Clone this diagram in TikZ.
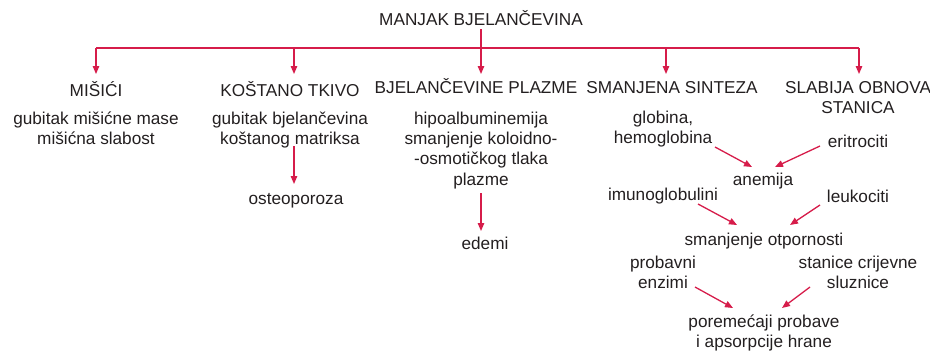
\documentclass[tikz,border=0pt]{standalone}
\usepackage{fontspec}
\setmainfont{Liberation Sans}
\usetikzlibrary{arrows.meta}
\definecolor{redc}{RGB}{214,28,74}
\definecolor{textc}{RGB}{35,31,32}
\tikzset{
  txt/.style={inner sep=0pt, align=center, anchor=base, text=textc,
    font=\fontsize{17.2}{20.4}\selectfont},
  conn/.style={draw=redc, line width=1.3pt, -{Triangle[length=8pt,width=6.5pt]}},
  bar/.style={draw=redc, line width=1.3pt}
}
\begin{document}
\begin{tikzpicture}[x=1pt,y=-1pt]
\useasboundingbox (0,0) rectangle (930,351);
% title and headings (y = baseline of the last line)
\node[txt] (title) at (481,25) {MANJAK BJELANČEVINA};
\node[txt] (h1) at (96,96) {MIŠIĆI};
\node[txt] (h2) at (290,96) {KOŠTANO TKIVO};
\node[txt] (h3) at (476,93) {BJELANČEVINE PLAZME};
\node[txt] (h4) at (672,93) {SMANJENA SINTEZA};
\node[txt] (h5) at (858,113.4) {SLABIJA OBNOVA\\STANICA};
% descriptions
\node[txt] (d1) at (96,144.4) {gubitak mišićne mase\\mišićna slabost};
\node[txt] (d2) at (290,144.4) {gubitak bjelančevina\\koštanog matriksa};
\node[txt] (d3) at (481,185.2) {hipoalbuminemija\\smanjenje koloidno-\\-osmotičkog tlaka\\plazme};
\node[txt] (osteo) at (296,204) {osteoporoza};
\node[txt] (edemi) at (485,249) {edemi};
\node[txt] (glob) at (663,143.4) {globina,\\hemoglobina};
\node[txt] (erit) at (858,147) {eritrociti};
\node[txt] (anem) at (763,185) {anemija};
\node[txt] (imuno) at (663,200) {imunoglobulini};
\node[txt] (leuko) at (858,202) {leukociti};
\node[txt] (otp) at (764,245) {smanjenje otpornosti};
\node[txt] (prob) at (663,288.4) {probavni\\enzimi};
\node[txt] (stan) at (858,288.4) {stanice crijevne\\sluznice};
\node[txt] (por) at (764,347.4) {poremećaji probave\\i apsorpcije hrane};
% coordinates for the tree
\coordinate (ts) at (481,29);
\coordinate (b1) at (96,48);
\coordinate (b2) at (294,48);
\coordinate (b4) at (666,48);
\coordinate (b5) at (859,48);
\coordinate (t1) at (96,74);
\coordinate (t2) at (294,74);
\coordinate (t3) at (481,74);
\coordinate (t4) at (666,74);
\coordinate (t5) at (859,74);
\draw[bar] (b1) -- (b5);
\draw[conn] (ts) -- (t3);
\draw[conn] (b1) -- (t1);
\draw[conn] (b2) -- (t2);
\draw[conn] (b4) -- (t4);
\draw[conn] (b5) -- (t5);
% vertical arrows
\coordinate (o1) at (294,146);
\coordinate (o2) at (294,184);
\draw[conn] (o1) -- (o2);
\coordinate (e1) at (481,193);
\coordinate (e2) at (481,231);
\draw[conn] (e1) -- (e2);
% converging arrows
\coordinate (a1) at (715,147);
\coordinate (a2) at (752,167);
\coordinate (a3) at (820,146);
\coordinate (a4) at (775,167);
\draw[conn] (a1) -- (a2);
\draw[conn] (a3) -- (a4);
\coordinate (c1) at (698,204);
\coordinate (c2) at (737,225);
\coordinate (c3) at (820,205);
\coordinate (c4) at (790,225);
\draw[conn] (c1) -- (c2);
\draw[conn] (c3) -- (c4);
\coordinate (p1) at (695,287);
\coordinate (p2) at (733,308);
\coordinate (p3) at (810,287);
\coordinate (p4) at (782,308);
\draw[conn] (p1) -- (p2);
\draw[conn] (p3) -- (p4);
\end{tikzpicture}
\end{document}
